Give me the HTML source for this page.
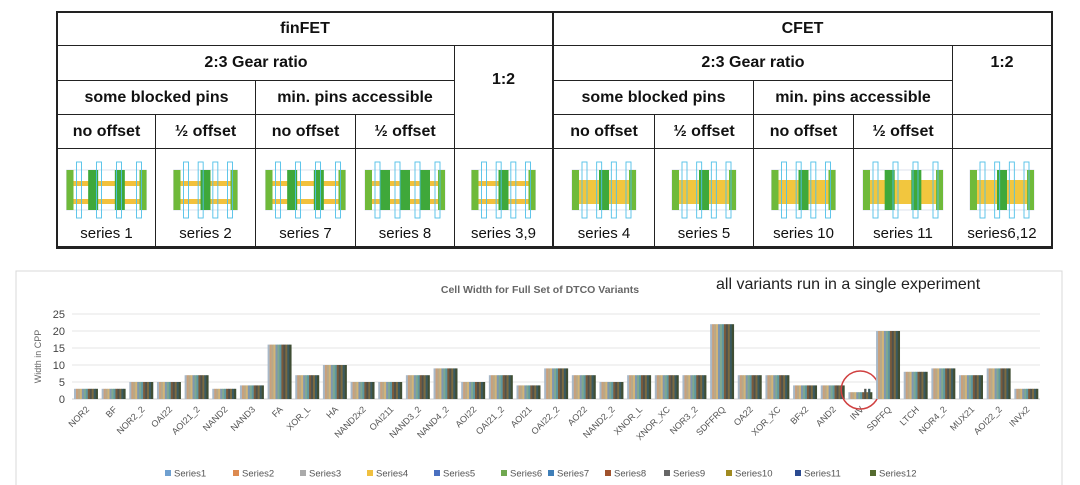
<!DOCTYPE html>
<html><head><meta charset="utf-8">
<style>
body{margin:0;width:1080px;height:485px;background:#fff;position:relative;overflow:hidden;font-family:"Liberation Sans",sans-serif}
.c{position:absolute;display:flex;align-items:center;justify-content:center;font-weight:bold;font-size:16px;color:#111;box-sizing:border-box}
.l{position:absolute;background:#222}
</style></head><body>
<div id="tbl" style="position:absolute;left:0;top:0;width:1080px;height:260px">
<svg id="icons" width="1080" height="260" style="position:absolute;left:0;top:0"></svg>
</div>
<svg id="chart" width="1080" height="485" style="position:absolute;left:0;top:0"></svg>
<script>
const tbl=document.getElementById('tbl');
function line(x,y,w,h){const d=document.createElement('div');d.className='l';d.style.cssText=`left:${x}px;top:${y}px;width:${w}px;height:${h}px`;


tbl.appendChild(d);}
function cell(x,y,w,h,t,name,bold=true){const d=document.createElement('div');d.className='c';d.style.cssText=`left:${x}px;top:${y}px;width:${w}px;height:${h}px;${bold?'':'font-weight:normal;font-size:15px'}`;d.textContent=t;


tbl.appendChild(d);}
line(56,11,997,2);line(56,246,997,3);line(56,11,2,238);line(1051,11,2,238);line(552,11,2,238);
line(56,45,997,1);
line(56,80,398,1);line(553,80,400,1);
line(56,114,398,1);line(553,114,499,1);
line(56,148,997,1);
[155,255,355,654,753,853].forEach(x=>line(x,x===255||x===753?80:114,1,x===255||x===753?167:133));
[454,952].forEach(x=>line(x,45,1,202));
cell(58,12,494,33,'finFET','finfet-header');cell(554,12,497,33,'CFET','cfet-header');
cell(58,46,396,34,'2:3 Gear ratio','finfet-gear-23');cell(455,46,97,68,'1:2','finfet-gear-12');
cell(554,46,398,34,'2:3 Gear ratio','cfet-gear-23');cell(953,46,98,34,'1:2','cfet-gear-12');
cell(58,81,197,33,'some blocked pins','finfet-blocked');cell(256,81,198,33,'min. pins accessible','finfet-min-pins');
cell(554,81,199,33,'some blocked pins','cfet-blocked');cell(754,81,198,33,'min. pins accessible','cfet-min-pins');
const offs=[[58,97,'no offset'],[156,99,'½ offset'],[256,99,'no offset'],[356,98,'½ offset'],[554,100,'no offset'],[655,98,'½ offset'],[754,99,'no offset'],[854,98,'½ offset']];
offs.forEach(o=>cell(o[0],115,o[1],33,o[2],'offset-header'));
const labs=[[58,97,'series 1',0,2],[156,99,'series 2',0,1],[256,99,'series 7',0,2],[356,98,'series 8',0,3],[455,97,'series 3,9',0,1],[554,100,'series 4',1,1],[655,98,'series 5',1,1],[754,99,'series 10',1,1],[854,98,'series 11',1,2],[953,98,'series6,12',1,1]];
const ic=document.getElementById('icons');let s='';
labs.forEach(o=>{cell(o[0],222,o[1],22,o[2],'series-label',false);
 const cx=o[0]+o[1]/2, w=(o[4]>=2?80:64), x0=cx-w/2, y0=162, h=56;
 s+=`<rect x="${x0}" y="${y0+8}" width="${w}" height="${h-16}" fill="none" stroke="#c8d0e0" stroke-width="0.6"/>`;
 if(o[3]==0){s+=`<rect x="${x0+4}" y="${y0+19}" width="${w-8}" height="5" fill="#f2c13c"/><rect x="${x0+4}" y="${y0+37}" width="${w-8}" height="5" fill="#f2c13c"/>`;}
 else{s+=`<rect x="${x0+4}" y="${y0+18}" width="${w-8}" height="24" fill="#f2c63e"/>`;}
 s+=`<rect x="${x0}" y="${y0+8}" width="7" height="${h-16}" fill="#6fba3a"/><rect x="${x0+w-7}" y="${y0+8}" width="7" height="${h-16}" fill="#6fba3a"/>`;
 const n=o[4]+1;for(let k=1;k<=o[4];k++){const bx=x0+k*w/n-5;s+=`<rect x="${bx}" y="${y0+8}" width="10" height="${h-16}" fill="#3fa83a"/>`;}
 for(let k=0;k<4;k++){const lx=x0+10+k*(w-20)/3;s+=`<rect x="${lx}" y="${y0}" width="5" height="${h}" fill="none" stroke="#4fc0e8" stroke-width="0.9"/>`;}
});
ic.innerHTML=s;
</script>
<script>
const categories=["NOR2","BF","NOR2_2","OAI22","AOI21_2","NAND2","NAND3","FA","XOR_L","HA","NAND2x2","OAI211","NAND3_2","NAND4_2","AOI22","OAI21_2","AOI21","OAI22_2","AO22","NAND2_2","XNOR_L","XNOR_XC","NOR3_2","SDFFRQ","OA22","XOR_XC","BFx2","AND2","INV","SDFFQ","LTCH","NOR4_2","MUX21","AOI22_2","INVx2"];
const baseValues=[3,3,5,5,7,3,4,16,7,10,5,5,7,9,5,7,4,9,7,5,7,7,7,22,7,7,4,4,2,20,8,9,7,9,3];
const invValues=[2,2,2,2,2,2,2,2,3,2,3,2];
const seriesNames=["Series1","Series2","Series3","Series4","Series5","Series6","Series7","Series8","Series9","Series10","Series11","Series12"];
const seriesColors=["#a8b8c8","#c8a07c","#b8a888","#d2b478","#7f98b0","#7fa890","#5e98a0","#7a5a3c","#4f524c","#7b6a40","#3a5a60","#3f4e34"];
const legendColors=["#6fa0d0","#dd8a50","#aaaaaa","#f0c040","#4a70c0","#70a850","#3f7fb8","#a0522d","#666666","#a08a20","#2a4a90","#556b2f"];
const yTicks=[0,5,10,15,20,25];
const svg=document.getElementById('chart');const NS='http://www.w3.org/2000/svg';
function el(t,a,txt){const e=document.createElementNS(NS,t);for(const k in a)e.setAttribute(k,a[k]);if(txt!=null)e.textContent=txt;svg.appendChild(e);return e;}
const L=72,R=1040,Y0=399,Y25=314;
const y=v=>Y0-(v/25)*(Y0-Y25);
const bw=(R-L)/categories.length;
const x=i=>L+i*bw;
let f=el('rect',{x:16,y:271,width:1046,height:220,fill:'none',stroke:'#d8d8d8'});


yTicks.forEach(t=>{const g=el('line',{x1:L,x2:R,y1:y(t),y2:y(t),stroke:t?'#e4e4e4':'#cfcfcf','stroke-width':1});


const tl=el('text',{x:L-7,y:y(t)+4,'text-anchor':'end','font-size':11,fill:'#444'},t);

});
const yt=el('text',{x:0,y:0,transform:`translate(41,${(Y0+Y25)/2}) rotate(-90)`,'text-anchor':'middle','font-size':9,fill:'#666'},'Width in CPP');


const tt=el('text',{x:540,y:293,'text-anchor':'middle','font-size':10.5,'font-weight':'bold',fill:'#666'},'Cell Width for Full Set of DTCO Variants');


const an=el('text',{x:716,y:289,'font-size':16,fill:'#222'},'all variants run in a single experiment');


categories.forEach((c,i)=>{
 const gx=x(i)+2, sw=(bw-4)/12;
 for(let s=0;s<12;s++){const v=c==="INV"?invValues[s]:baseValues[i];
  const r=el('rect',{x:gx+s*sw,y:y(v),width:sw+0.3,height:Y0-y(v),fill:seriesColors[s]});
  
  }
 const cx=x(i)+bw/2;
 const lb=el('text',{x:0,y:0,transform:`translate(${cx+4},${Y0+11}) rotate(-45)`,'text-anchor':'end','font-size':9,fill:'#555'},c);
 
 
 if(c==="INV"){const ci=el('circle',{cx:cx,cy:Y0-9,r:19,fill:'none',stroke:'#d04040','stroke-width':1.5});
 
 }
});
const lx=[165,233,300,367,434,501,548,605,664,726,795,870];
seriesNames.forEach((n,i)=>{const r=el('rect',{x:lx[i],y:470,width:6,height:6,fill:legendColors[i]});


const t=el('text',{x:lx[i]+9,y:476.5,'font-size':9.5,fill:'#555'},n);

});
</script>
</body></html>
